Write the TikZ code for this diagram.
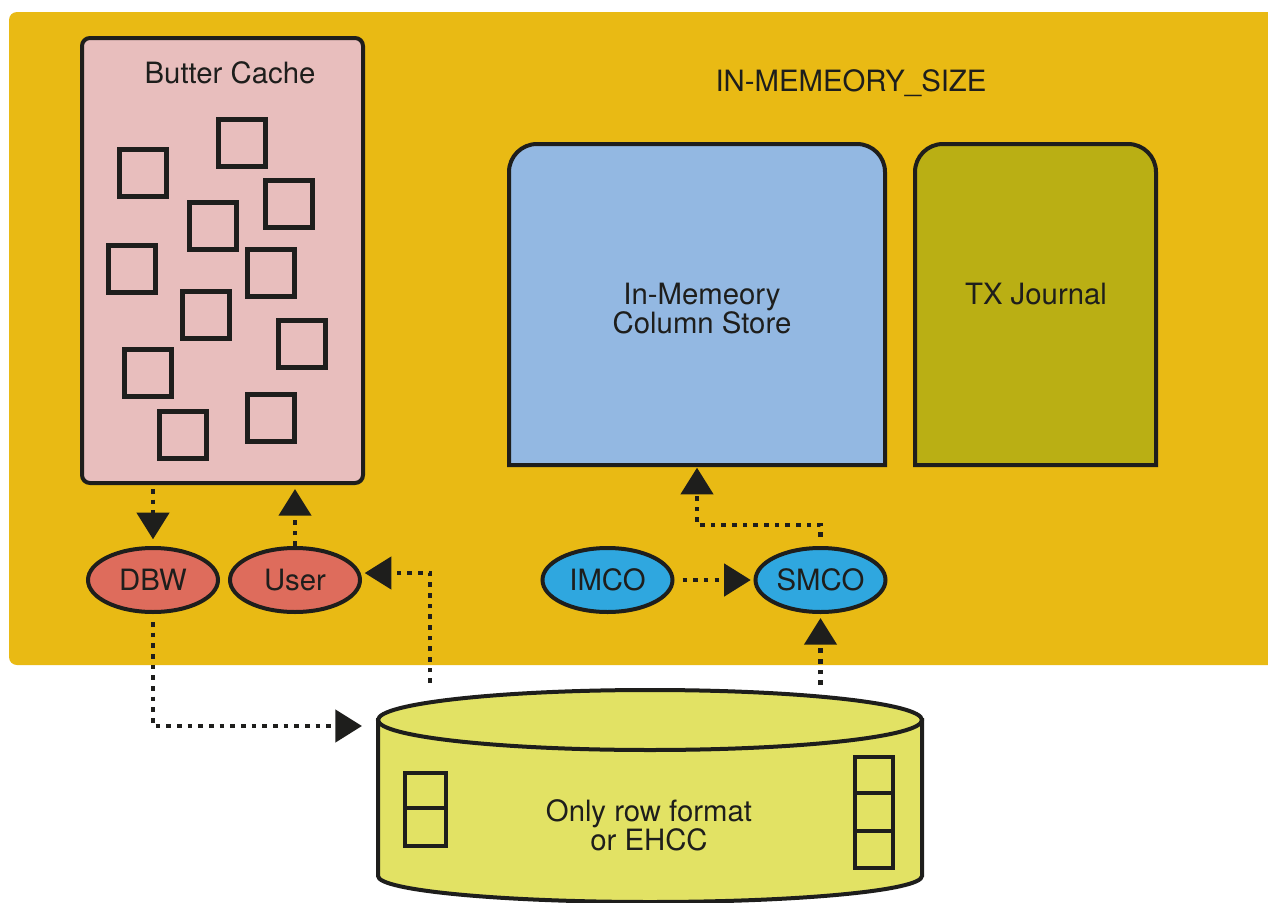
\documentclass[tikz,border=0pt]{standalone}
\usepackage{fontspec}
\setmainfont{TeX Gyre Heros}
\usetikzlibrary{shapes.geometric,arrows.meta,calc}
\definecolor{ink}{RGB}{30,30,28}
\definecolor{bgyellow}{RGB}{233,186,20}
\definecolor{cachepink}{RGB}{232,190,189}
\definecolor{colblue}{RGB}{147,184,226}
\definecolor{olive}{RGB}{186,175,20}
\definecolor{procred}{RGB}{222,108,92}
\definecolor{proccyan}{RGB}{47,167,223}
\definecolor{cylyellow}{RGB}{226,226,100}
\tikzset{
  lbl/.style={font=\fontsize{22}{21.75}\selectfont, text=ink, align=center, inner sep=0pt},
  sq/.style={draw=ink, line width=3.75pt, minimum width=35.25pt, minimum height=35.25pt, inner sep=0pt},
  cell/.style={draw=ink, line width=3.4pt, inner sep=0pt},
  proc/.style={ellipse, draw=ink, line width=3pt, minimum width=97.5pt, minimum height=48pt, inner sep=0pt, font=\fontsize{22}{22}\selectfont, text=ink},
  flow/.style={draw=ink, line width=3.4pt, dash pattern=on 3.4pt off 4.6pt, -{Triangle[length=20pt,width=24pt]}},
}
\begin{document}
\begin{tikzpicture}[x=0.75pt,y=-0.75pt]
\useasboundingbox (0,0) rectangle (1268,903);
% background panel
\fill[bgyellow, rounded corners=6pt] (9,12) rectangle (1300,665);

% Butter cache
\node[draw=ink, fill=cachepink, line width=3pt, rounded corners=6pt, minimum width=210.75pt, minimum height=333.75pt, inner sep=0pt] (bc) at (222.5,260.5) {};
\node[lbl] (bct) at (230,73) {Butter Cache};
\node[sq] (s1) at (142.5,172.5) {};
\node[sq] (s2) at (242,142.5) {};
\node[sq] (s3) at (288.5,204) {};
\node[sq] (s4) at (213,226) {};
\node[sq] (s5) at (132,269) {};
\node[sq] (s6) at (271,272.5) {};
\node[sq] (s7) at (206,315) {};
\node[sq] (s8) at (302,344) {};
\node[sq] (s9) at (148,372.5) {};
\node[sq] (s10) at (183,435) {};
\node[sq] (s11) at (271,418) {};

% title
\node[lbl] (title) at (851,83) {IN-MEMEORY\_SIZE};

% In-memory column store
\node[minimum width=282pt, minimum height=240.75pt, inner sep=0pt, outer sep=0pt] (imcs) at (697,304.5) {};
\draw[fill=colblue, draw=ink, line width=3pt]
  (imcs.south west) -- ([yshift=-21pt]imcs.north west)
  arc[start angle=180, end angle=90, radius=21pt]
  -- ([xshift=-21pt]imcs.north east)
  arc[start angle=90, end angle=0, radius=21pt]
  -- (imcs.south east) -- cycle;
\node[lbl] (imcst) at (702,309) {In-Memeory\\Column Store};

% TX journal
\node[minimum width=180.75pt, minimum height=240.75pt, inner sep=0pt, outer sep=0pt] (txj) at (1035.5,304.5) {};
\draw[fill=olive, draw=ink, line width=3pt]
  (txj.south west) -- ([yshift=-21pt]txj.north west)
  arc[start angle=180, end angle=90, radius=21pt]
  -- ([xshift=-21pt]txj.north east)
  arc[start angle=90, end angle=0, radius=21pt]
  -- (txj.south east) -- cycle;
\node[lbl] (txjt) at (1036,294) {TX Journal};

% processes
\node[proc, fill=procred] (dbw) at (153,580) {DBW};
\node[proc, fill=procred] (user) at (295,580) {User};
\node[proc, fill=proccyan] (imco) at (607.5,580) {IMCO};
\node[proc, fill=proccyan] (smco) at (820.5,580) {SMCO};

% cylinder
\node[minimum width=408pt, minimum height=57pt, inner sep=0pt, outer sep=0pt] (cyl) at (650,726) {};
\draw[fill=cylyellow, draw=ink, line width=3pt]
  (378,720) -- (378,876) arc[start angle=180, end angle=360, x radius=204pt, y radius=19.5pt] -- (922,720) -- cycle;
\draw[fill=cylyellow, draw=ink, line width=3pt] (650,720) ellipse [x radius=204pt, y radius=22.5pt];
\node[lbl] (cylt) at (649,825) {Only row format\\or EHCC};
\node[cell, minimum width=30.75pt, minimum height=26.25pt] (l1) at (425.5,790.5) {};
\node[cell, minimum width=30.75pt, minimum height=28.5pt] (l2) at (425.5,827) {};
\node[cell, minimum width=28.5pt, minimum height=27pt] (r1) at (874,775) {};
\node[cell, minimum width=28.5pt, minimum height=28.5pt] (r2) at (874,812) {};
\node[cell, minimum width=28.5pt, minimum height=27.75pt] (r3) at (874,849.5) {};

% connectors
\draw[flow, shorten <=3pt, shorten >=5pt] (bc.south -| dbw.north) -- (dbw.north);
\draw[flow, shorten >=3pt] (user.north) -- (user.north |- bc.south);
\draw[flow, shorten >=2pt] ($(cyl.north)+(-220,-5)$) |- ($(user.east)+(0,-7)$);
\draw[flow, shorten <=6pt, shorten >=12pt] (dbw.south) |- (cyl.west);
\draw[flow, shorten >=2pt] ($(smco.north)+(0,-9)$) -- ++(0,-12) -| (imcs.south);
\draw[flow, shorten <=6pt, shorten >=2pt] (imco.east) -- (smco.west);
\draw[flow, shorten >=3pt] ($(cyl.north -| smco.south)+(0,-3)$) -- (smco.south);
\end{tikzpicture}
\end{document}
